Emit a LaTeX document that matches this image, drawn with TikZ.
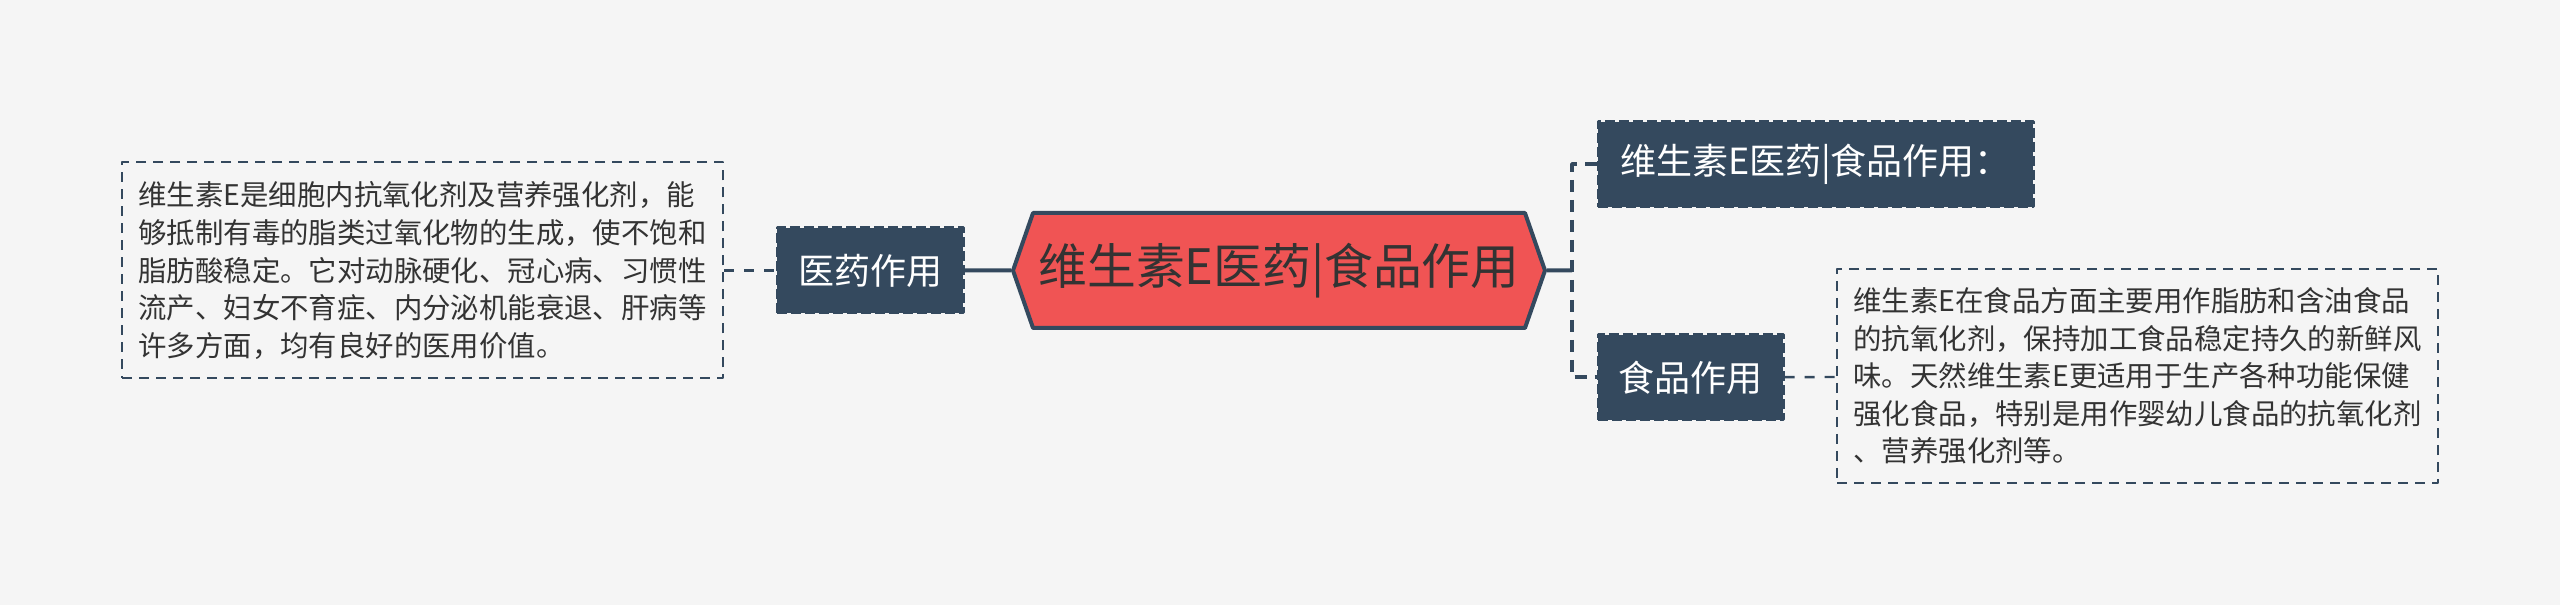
\documentclass[tikz,border=0pt]{standalone}
\usepackage{fontspec}
\setmainfont{Noto Sans CJK SC}
\usepackage{tikz}
\usetikzlibrary{arrows,shapes,shapes.symbols}
\definecolor{navy}{HTML}{34495E}
\definecolor{hubred}{HTML}{F05454}
\definecolor{ink}{HTML}{333333}

\begin{document}
\begin{tikzpicture}[line join=bevel,
  note/.style={draw=navy, line width=1bp, dash pattern=on 5bp off 3.5bp, text=ink,
    align=left, inner sep=0pt, minimum width=300.5bp, minimum height=108bp,
    font=\fontsize{14.2bp}{18.8bp}\selectfont},
  topic/.style={draw=navy, fill=navy, line width=1.5bp, dash pattern=on 5bp off 2bp,
    text=white, inner xsep=10bp, inner ysep=0pt, minimum height=42.5bp,
    font=\fontsize{18bp}{22bp}\selectfont},
  hubshape/.style={signal, signal to=east and west, signal pointer angle=141.6,
    draw=navy, fill=hubred, line width=2bp, inner sep=0pt,
    minimum width=266bp, minimum height=57.5bp, text=ink,
    font=\fontsize{24.4bp}{28bp}\selectfont},
  trunk/.style={navy, line width=2bp},
  trunkdash/.style={navy, line width=2bp, dash pattern=on 6bp off 4bp},
  twig/.style={navy, line width=1.2bp, dash pattern=on 5bp off 5bp},
]
%%
\begin{scope}
  \definecolor{fillcol}{HTML}{F5F5F5};
  \pgfsetfillcolor{fillcol}
  \fill (0.0bp,0.0bp) -- (0.0bp,302.5bp) -- (1280.0bp,302.5bp) -- (1280.0bp,0.0bp) -- cycle;
\end{scope}
  \node (hub) at (639.5bp,167.25bp) [hubshape] {维生素E医药|食品作用};
  \node (med) at (435.0bp,167.25bp) [topic, minimum width=93bp] {医药作用};
  \node (medNote) at (211.25bp,167.25bp) [note] {维生素E是细胞内抗氧化剂及营养强化剂，能\\够抵制有毒的脂类过氧化物的生成，使不饱和\\脂肪酸稳定。它对动脉硬化、冠心病、习惯性\\流产、妇女不育症、内分泌机能衰退、肝病等\\许多方面，均有良好的医用价值。};
  \node (title) at (907.75bp,220.25bp) [topic, minimum width=217.5bp] {维生素E医药|食品作用：};
  \node (food) at (845.25bp,113.75bp) [topic, minimum width=92.5bp] {食品作用};
  \node (foodNote) at (1068.75bp,114.5bp) [note, minimum height=107bp] {维生素E在食品方面主要用作脂肪和含油食品\\的抗氧化剂，保持加工食品稳定持久的新鲜风\\味。天然维生素E更适用于生产各种功能保健\\强化食品，特别是用作婴幼儿食品的抗氧化剂\\、营养强化剂等。};
  \coordinate (fork) at (786.0bp,167.25bp);
  \draw [twig] (medNote) -- (med);
  \draw [trunk] (med) -- (hub);
  \draw [trunk] (hub) -- (fork);
  \draw [trunkdash] (title.west) -| (fork) |- (food.west);
  \draw [twig] (food) -- (foodNote);
%
\end{tikzpicture}
\end{document}
